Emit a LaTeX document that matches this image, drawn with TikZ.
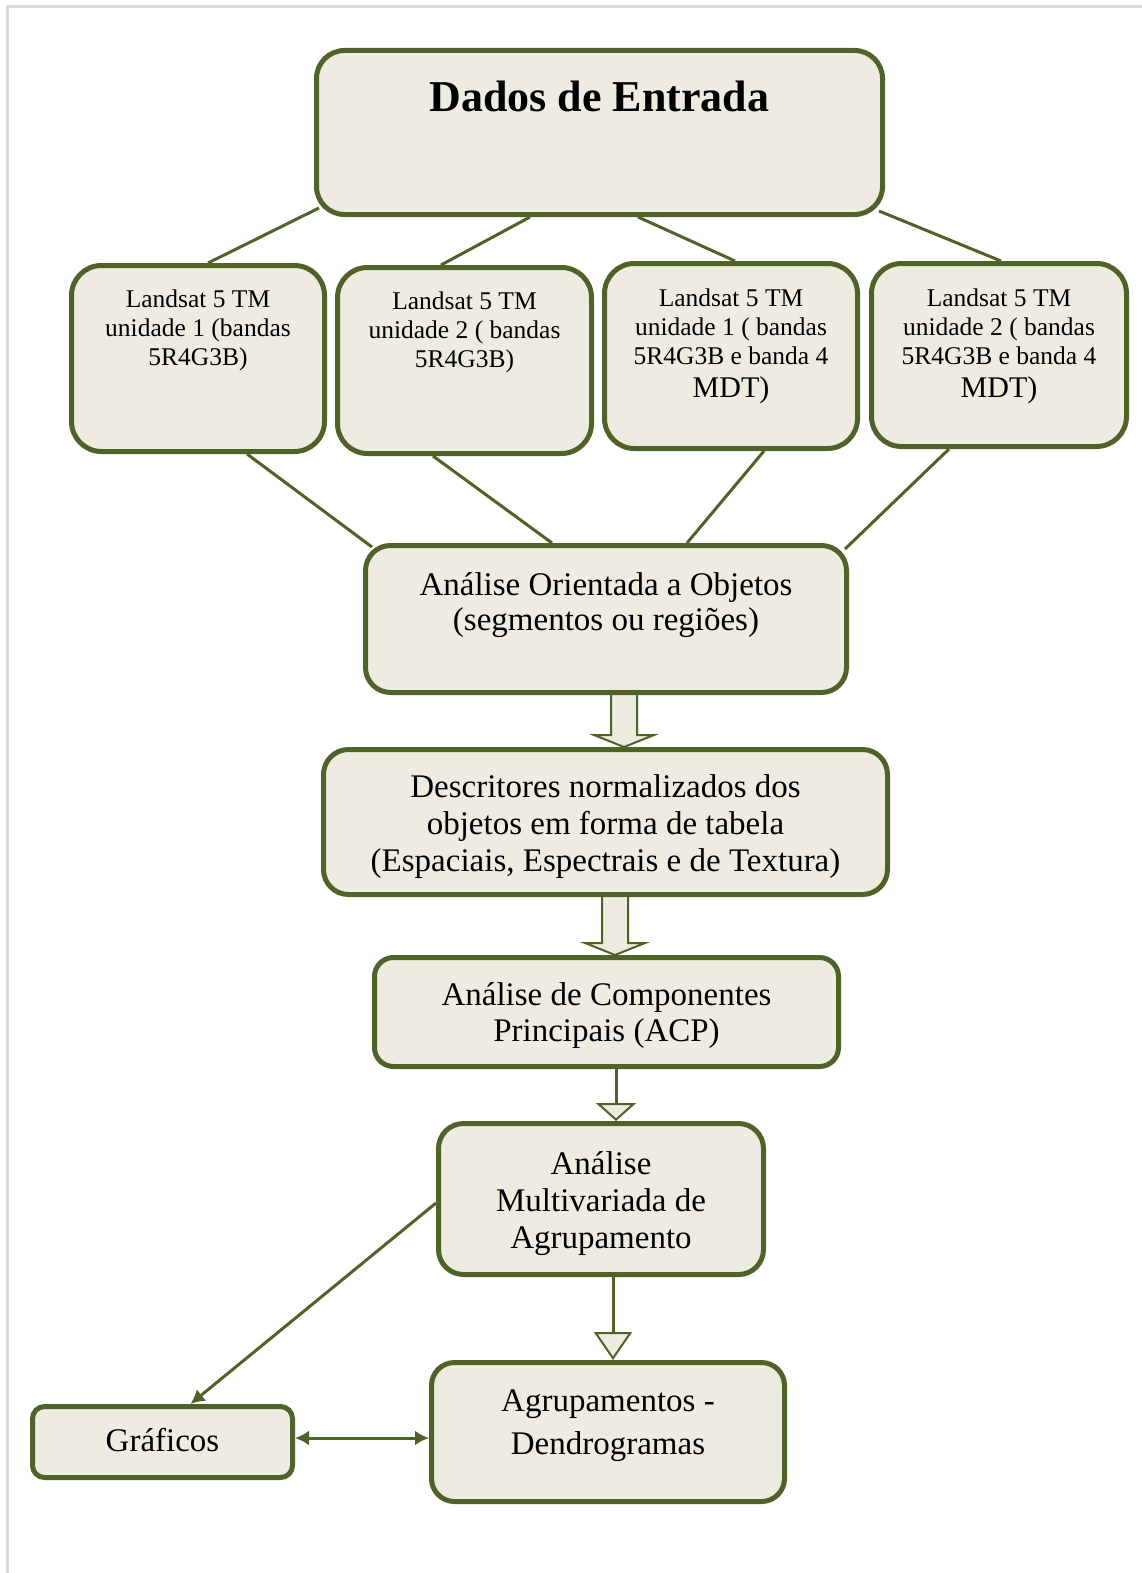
\documentclass[tikz,border=0pt]{standalone}
\usepackage{fontspec}
\setmainfont{Liberation Serif}
\usepackage{xcolor}
\usetikzlibrary{calc}
\usetikzlibrary{positioning}
\usetikzlibrary{arrows.meta,backgrounds}

\definecolor{boxGreen}{HTML}{4F6228}
\definecolor{boxFill}{HTML}{EEECE1}
\definecolor{frameGray}{HTML}{D9D9D9}

% hollow block arrow from #1 (top) down to #2 (tip)
\newcommand{\blockArrow}[2]{%
    \draw[blockArrowLine] ($(#1)+(-13,0)$) -- ($(#2)+(-13,-12)$) -- ($(#2)+(-30,-12)$) -- (#2)
        -- ($(#2)+(30,-12)$) -- ($(#2)+(13,-12)$) -- ($(#1)+(13,0)$) -- cycle;}

\begin{document}
\begin{tikzpicture} [x=1pt, y=-1pt, >=Latex]
            % Set primary nodes
            \tikzset{
                processNode/.style={
                        draw=boxGreen,
                        fill=boxFill,
                        line width=5pt,
                        rectangle,
                        inner sep=0pt
                    }
            }
            \tikzset{
                landsatNode/.style={
                        processNode,
                        rounded corners=30pt,
                        minimum width=253pt,
                        minimum height=186pt
                    }
            }
            \tikzset{
                titleText/.style={
                        font=\fontsize{44}{50}\selectfont\bfseries,
                        inner sep=0pt
                    }
            }
            \tikzset{
                landsatText/.style={
                        font=\fontsize{25.5}{29}\selectfont,
                        align=center,
                        inner sep=0pt
                    }
            }
            \tikzset{
                mainText/.style={
                        font=\fontsize{33}{37}\selectfont,
                        align=center,
                        inner sep=0pt
                    }
            }
            % Configure connectors
            \tikzstyle{link} = [draw=boxGreen, line width=3pt]
            \tikzstyle{blockArrowLine} = [draw=boxGreen, fill=boxFill, line width=2pt, line join=miter]
            \tikzstyle{openArrow} = [link, -{Triangle[length=18pt, width=40pt, fill=boxFill, line width=2pt]}]
            \tikzstyle{longOpenArrow} = [link, -{Triangle[length=28pt, width=38pt, fill=boxFill, line width=2pt]}]
            \tikzstyle{solidArrow} = [link, -{Latex[length=14pt, width=15pt]}]
            \tikzstyle{doubleArrow} = [link, {Latex[length=14pt, width=15pt]}-{Latex[length=14pt, width=15pt]}]
            \useasboundingbox (0,0) rectangle (1142,1573);
            % Page frame
            \draw[frameGray, line width=3pt] (7.5,1573) -- (7.5,6.5) -- (1142,6.5);
            % Placing nodes
            \node[processNode, rounded corners=28pt, minimum width=566pt, minimum height=164pt](entrada) at (599.5,132.5){};
            \node[landsatNode](l1) at (198,358.5){};
            \node[landsatNode, minimum width=254pt, right = 8pt of l1, yshift = -2pt](l2){};
            \node[landsatNode, minimum height=185pt, right = 8pt of l2, yshift = 4.5pt](l3){};
            \node[landsatNode, minimum width=255pt, minimum height=183pt, right = 9pt of l3, yshift = 1pt](l4){};
            \node[processNode, rounded corners=25pt, minimum width=481pt, minimum height=147pt](objetos) at (606,619){};
            \node[processNode, rounded corners=25pt, minimum width=564pt, minimum height=145pt](descritores) at (605.5,822){};
            \node[processNode, rounded corners=19pt, minimum width=464pt, minimum height=109pt](acp) at (606.5,1012){};
            \node[processNode, rounded corners=25pt, minimum width=325pt, minimum height=151pt](multi) at (601,1199){};
            \node[processNode, rounded corners=12pt, minimum width=260pt, minimum height=71pt](graficos) at (162.5,1442){};
            \node[processNode, rounded corners=23pt, minimum width=353pt, minimum height=139pt](agrup) at (608,1432){};
            % Texts
            \node[titleText](entradaText) at ([yshift=36.5pt]entrada.center){Dados de Entrada};
            \node[landsatText](l1Text) at ([yshift=28pt]l1.center){Landsat 5 TM\\unidade 1 (bandas\\5R4G3B)};
            \node[landsatText](l2Text) at ([yshift=28pt]l2.center){Landsat 5 TM\\unidade 2 ( bandas\\5R4G3B)};
            \node[landsatText](l3Text) at ([yshift=10pt]l3.center){Landsat 5 TM\\unidade 1 ( bandas\\5R4G3B e banda 4\\[4pt]{\fontsize{30}{30}\selectfont MDT)}};
            \node[landsatText](l4Text) at ([yshift=8.5pt]l4.center){Landsat 5 TM\\unidade 2 ( bandas\\5R4G3B e banda 4\\[4pt]{\fontsize{30}{30}\selectfont MDT)}};
            \node[mainText, font=\fontsize{33}{35}\selectfont](objetosText) at ([yshift=13.5pt]objetos.center){Análise Orientada a Objetos\\(segmentos ou regiões)};
            \node[mainText](descritoresText) at ([yshift=-5pt]descritores.center){Descritores normalizados dos\\objetos em forma de tabela\\(Espaciais, Espectrais e de Textura)};
            \node[mainText, font=\fontsize{33}{36}\selectfont](acpText) at ([yshift=-4pt]acp.center){Análise de Componentes\\Principais (ACP)};
            \node[mainText](multiText) at ([yshift=-5pt]multi.center){Análise\\Multivariada de\\Agrupamento};
            \node[mainText](graficosText) at ([yshift=1.5pt]graficos.center){Gráficos};
            \node[mainText, font=\fontsize{33}{43}\selectfont](agrupText) at ([yshift=6pt]agrup.center){Agrupamentos -\\Dendrogramas};
            % Helper coordinates
            \coordinate (arrowTopA) at ([xshift=18pt]objetos.center);
            \coordinate (arrowTipA) at (arrowTopA |- descritores.north);
            \coordinate (arrowTopB) at ([xshift=9.5pt]descritores.center);
            \coordinate (arrowTipB) at (arrowTopB |- acp.north);
            \coordinate (graficosLink) at ([yshift=4pt]graficos.east);
            % Draw connectors
            \begin{pgfonlayer}{background}
                \draw[link]($(entrada.south west)+(5,-9)$) -- ([xshift=10pt]l1.north);
                \draw[link]([xshift=-69.5pt]entrada.south) -- ([xshift=-23.5pt]l2.north);
                \draw[link]([xshift=38.5pt]entrada.south) -- ([xshift=4pt]l3.north);
                \draw[link]($(entrada.south east)+(-6,-6)$) -- ([xshift=2pt]l4.north);
                \draw[link]([xshift=49pt]l1.south) -- ($(objetos.north west)+(9,4)$);
                \draw[link]([xshift=-31.5pt]l2.south) -- ([xshift=-54pt]objetos.north);
                \draw[link]([xshift=33pt]l3.south) -- ([xshift=81pt]objetos.north);
                \draw[link]([xshift=-50pt]l4.south) -- ($(objetos.north east)+(-4,6)$);
                \blockArrow{arrowTopA}{arrowTipA}
                \blockArrow{arrowTopB}{arrowTipB}
                \draw[openArrow]([xshift=9.5pt]acp.center) -- ([xshift=9.5pt]acp.center |- multi.north);
                \draw[longOpenArrow]([xshift=12pt]multi.center) -- ([xshift=12pt]multi.center |- agrup.north);
                \draw[solidArrow]([yshift=-4pt]multi.west) -- ([xshift=28pt]graficos.north);
                \draw[doubleArrow](graficosLink) -- (graficosLink -| agrup.west);
            \end{pgfonlayer}
        \end{tikzpicture}
\end{document}
